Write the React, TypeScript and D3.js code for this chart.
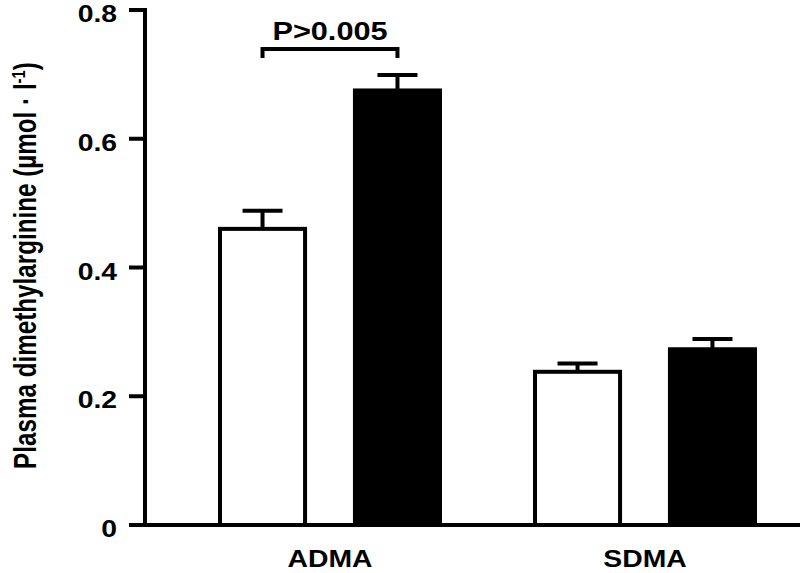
import React, { useEffect, useRef } from "react";
import * as d3 from "d3";

const categories = ["ADMA", "SDMA"];
const seriesNames = ["control", "patient"];
const controlValues = [0.46, 0.238];
const controlErrors = [0.028, 0.013];
const patientValues = [0.675, 0.273];
const patientErrors = [0.024, 0.016];
const yTicks = [0, 0.2, 0.4, 0.6, 0.8];
const yTickLabels = ["0", "0.2", "0.4", "0.6", "0.8"];
const yLabel = "Plasma dimethylarginine (µmol · l";
const significanceLabel = "P>0.005";

const W = 800;
const H = 573;
const FONT = "'Liberation Sans', Arial, Helvetica, sans-serif";
const STRETCH = 1.18;

export default function App() {
  const ref = useRef<SVGSVGElement | null>(null);

  useEffect(() => {
    const svg = d3.select(ref.current);
    svg.selectAll("*").remove();

    const y = d3.scaleLinear().domain([0, 0.8]).range([525, 10]);
    const xGroup = d3.scalePoint<string>().domain(categories).range([330, 645]);
    const xSub = d3.scaleBand<string>().domain(seriesNames).range([-112, 112]).paddingInner(0.34);
    const bw = xSub.bandwidth();

    const data = categories.flatMap((c, i) => [
      { cat: c, s: "control", v: controlValues[i], e: controlErrors[i] },
      { cat: c, s: "patient", v: patientValues[i], e: patientErrors[i] },
    ]);

    const g = svg.append("g");

    // error bars (behind bars)
    data.forEach((d) => {
      const cx = (xGroup(d.cat) as number) + (xSub(d.s) as number) + bw / 2;
      g.append("line")
        .attr("x1", cx).attr("x2", cx)
        .attr("y1", y(d.v)).attr("y2", y(d.v + d.e))
        .attr("stroke", "#000").attr("stroke-width", 4);
      g.append("line")
        .attr("x1", cx - 20).attr("x2", cx + 20)
        .attr("y1", y(d.v + d.e)).attr("y2", y(d.v + d.e))
        .attr("stroke", "#000").attr("stroke-width", 4);
    });

    // bars
    data.forEach((d) => {
      const x0 = (xGroup(d.cat) as number) + (xSub(d.s) as number);
      if (d.s === "control") {
        g.append("rect")
          .attr("x", x0 + 2).attr("y", y(d.v))
          .attr("width", bw - 4).attr("height", y(0) - y(d.v))
          .attr("fill", "#fff").attr("stroke", "#000").attr("stroke-width", 4);
      } else {
        g.append("rect")
          .attr("x", x0).attr("y", y(d.v) - 2)
          .attr("width", bw).attr("height", y(0) - y(d.v) + 2)
          .attr("fill", "#000");
      }
    });

    // axes
    const axisX = 145;
    g.append("line")
      .attr("x1", axisX).attr("x2", axisX)
      .attr("y1", y(0.8) - 2).attr("y2", y(0) + 2)
      .attr("stroke", "#000").attr("stroke-width", 4);
    g.append("line")
      .attr("x1", axisX - 2).attr("x2", 800)
      .attr("y1", y(0)).attr("y2", y(0))
      .attr("stroke", "#000").attr("stroke-width", 4);

    yTicks.forEach((t, i) => {
      g.append("line")
        .attr("x1", axisX - 16).attr("x2", axisX)
        .attr("y1", y(t)).attr("y2", y(t))
        .attr("stroke", "#000").attr("stroke-width", 4);
      g.append("text")
        .attr("transform", `translate(117,${y(t) + 12}) scale(${STRETCH},1)`)
        .attr("text-anchor", "end")
        .attr("font-family", FONT).attr("font-weight", "bold").attr("font-size", 24)
        .attr("fill", "#000")
        .text(yTickLabels[i]);
    });

    categories.forEach((c) => {
      g.append("text")
        .attr("transform", `translate(${xGroup(c)},567) scale(${STRETCH},1)`)
        .attr("text-anchor", "middle")
        .attr("font-family", FONT).attr("font-weight", "bold").attr("font-size", 24)
        .attr("fill", "#000")
        .text(c);
    });

    // significance bracket
    const bx1 = (xGroup("ADMA") as number) + (xSub("control") as number) + bw / 2;
    const bx2 = (xGroup("ADMA") as number) + (xSub("patient") as number) + bw / 2;
    g.append("path")
      .attr("d", `M${bx1},58 V49 H${bx2} V58`)
      .attr("fill", "none").attr("stroke", "#000").attr("stroke-width", 4);
    g.append("text")
      .attr("transform", `translate(${(bx1 + bx2) / 2},40) scale(${STRETCH},1)`)
      .attr("text-anchor", "middle")
      .attr("font-family", FONT).attr("font-weight", "bold").attr("font-size", 26)
      .attr("fill", "#000")
      .text(significanceLabel);

    // y label
    const yl = g.append("text")
      .attr("text-anchor", "middle")
      .attr("font-family", FONT).attr("font-weight", "bold").attr("font-size", 31)
      .attr("fill", "#000");
    yl.append("tspan").text(yLabel);
    yl.append("tspan").attr("dy", -11).attr("font-size", 19).text("-1");
    yl.append("tspan").attr("dy", 11).text(")");
    const node = yl.node() as SVGTextElement;
    const w = node.getBBox ? node.getBBox().width : 400;
    const sx = 407 / w;
    yl.attr("transform", `translate(36,265.5) rotate(-90) scale(${sx},1)`);
  }, []);

  return (
    <svg
      ref={ref}
      width={W}
      height={H}
      style={{ position: "absolute", left: 0, top: 0, background: "#fff" }}
    />
  );
}
